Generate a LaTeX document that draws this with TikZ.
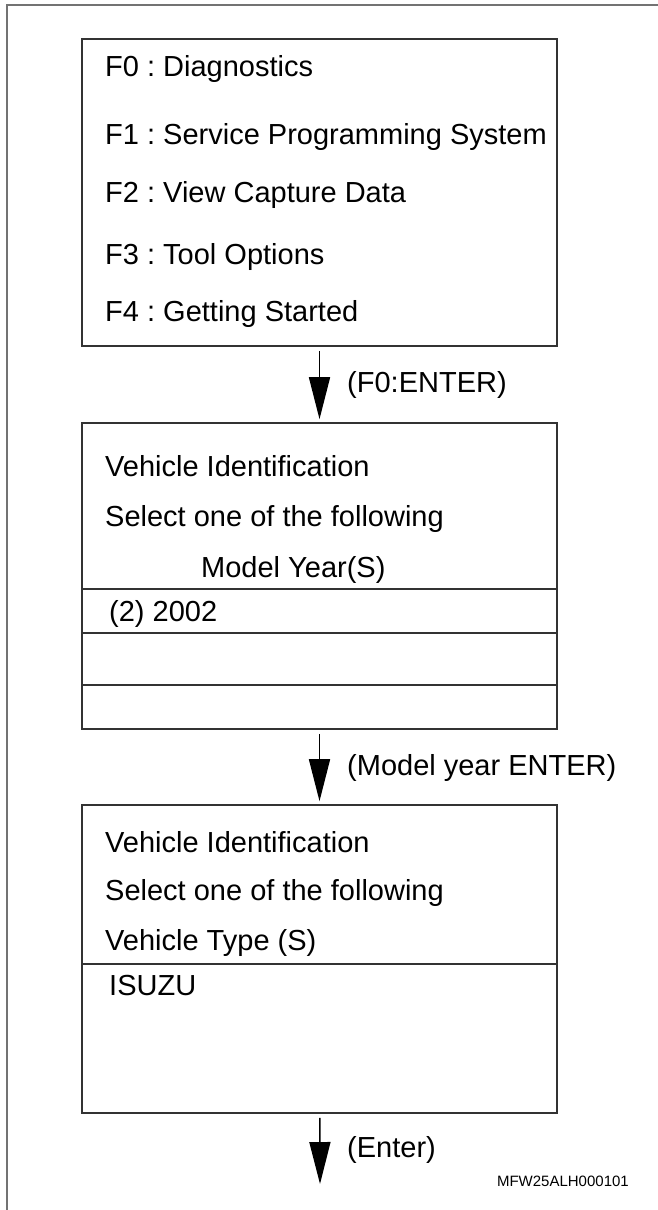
\documentclass[tikz,border=0pt]{standalone}
\usepackage{fontspec}
\setmainfont{Liberation Sans}
\usetikzlibrary{arrows.meta}
\frenchspacing

\begin{document}
\begin{tikzpicture}[x=1pt,y=-1pt]
				\tikzstyle{every node}=[inner sep=0pt,font=\fontsize{29}{34}\selectfont]
				\tikzstyle{screen}=[draw=black!80,line width=1.6pt,minimum width=475pt]
				\tikzstyle{item}=[anchor=base west]
				\tikzstyle{flow}=[line width=1.6pt,-{Triangle[length=42pt,width=21pt]},shorten <=4pt,shorten >=3pt]
				\tikzstyle{rule}=[draw=black!80,line width=1.3pt]
				\useasboundingbox (0,0) rectangle (658,1210);
				% frame
				\draw[black!55,line width=2pt] (7,1210) -- (7,5) -- (658,5);
				% main menu
				\node[screen,minimum height=307pt] (menu) at (319.5,192.5) {};
				\node[item] (f0) at (105,76) {F0 : Diagnostics};
				\node[item] (f1) at (105,144) {F1 : Service Programming System};
				\node[item] (f2) at (105,202) {F2 : View Capture Data};
				\node[item] (f3) at (105,264) {F3 : Tool Options};
				\node[item] (f4) at (105,321) {F4 : Getting Started};
				% model year
				\node[screen,minimum height=306pt] (year) at (319.5,576) {};
				\node[item] (yid) at (105,476) {Vehicle Identification};
				\node[item] (ysel) at (105,526) {Select one of the following};
				\node[item] (ymy) at (201,577) {Model Year(S)};
				\draw[rule] (year.west |- 0,589) -- (year.east |- 0,589);
				\node[item] (y2002) at (109,621) {(2) 2002};
				\draw[rule] (year.west |- 0,633) -- (year.east |- 0,633);
				\draw[rule] (year.west |- 0,685) -- (year.east |- 0,685);
				% vehicle type
				\node[screen,minimum height=308pt] (type) at (319.5,959) {};
				\node[item] (tid) at (105,852) {Vehicle Identification};
				\node[item] (tsel) at (105,900) {Select one of the following};
				\node[item] (tvt) at (105,950) {Vehicle Type (S)};
				\draw[rule] (type.west |- 0,964) -- (type.east |- 0,964);
				\node[item] (isuzu) at (109,995) {ISUZU};
				% arrows
				\coordinate (end) at (320,1184);
				\draw[flow] (menu) -- (year);
				\draw[flow] (year) -- (type);
				\draw[flow,shorten >=0pt] (type) -- (end);
				\node[anchor=west] (k1) at (347,385) {(F0:ENTER)};
				\node[anchor=west] (k2) at (347,768) {(Model year ENTER)};
				\node[anchor=west] (k3) at (347,1150) {(Enter)};
				\node[anchor=base east,font=\fontsize{15}{18}\selectfont] (code) at (629,1186) {MFW25ALH000101};
\end{tikzpicture}
\end{document}
